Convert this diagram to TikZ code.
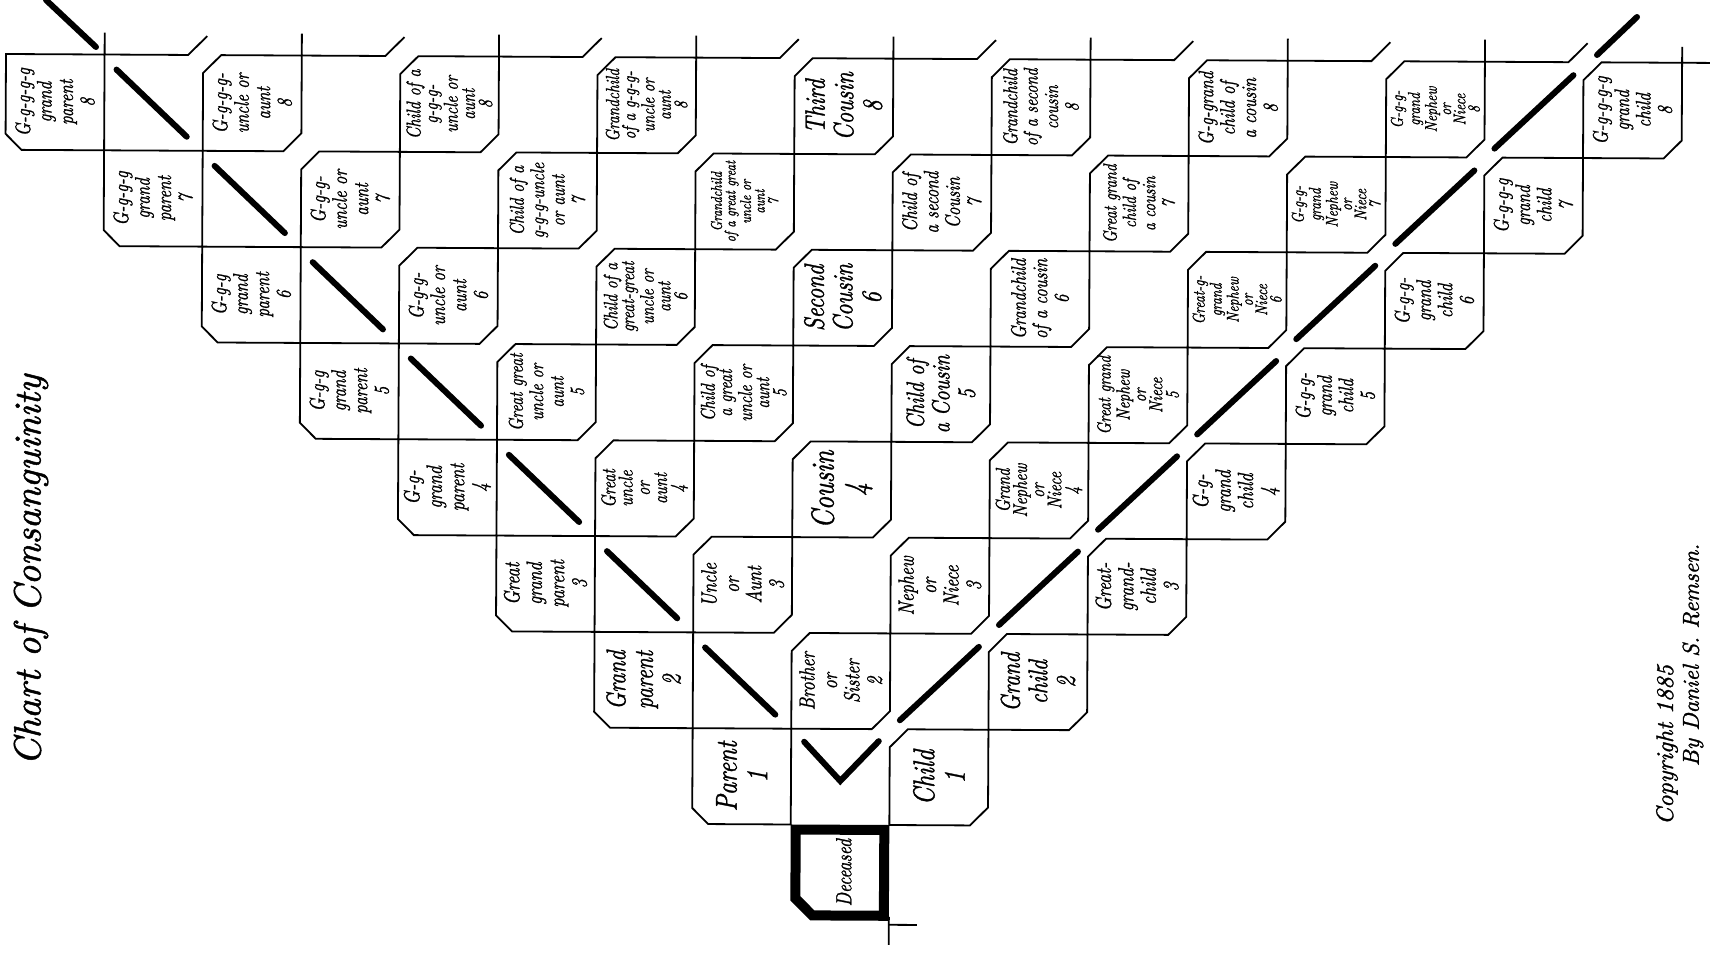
\documentclass[tikz,border=0pt]{standalone}
\usepackage{fontspec}
\newfontfamily\hand{lmroman10-italic.otf}[FakeBold=1.3]
\tikzset{
  edge/.style={line width=1.8pt, line join=miter},
  heavy/.style={line width=6pt, line cap=round},
  lbl/.style={inner sep=0pt, rotate=90, align=center, font=\hand\fontsize{10}{10.2}\selectfont},
}
\newcommand\setcell[2]{%
  \pgfmathsetmacro\xl{6+98.6*(#2)}%
  \pgfmathsetmacro\xr{6+98.6*((#2)+1)}%
  \pgfmathsetmacro\yt{54+95.8*(#1)}%
  \pgfmathsetmacro\yb{54+95.8*((#1)+1)}%
  \pgfmathsetmacro\xm{(\xl+\xr)/2}%
  \pgfmathsetmacro\ym{(\yt+\yb)/2}%
}
\newcommand\nbbox[5][10.2]{%
  \setcell{#2}{#3}%
  \pgfmathsetmacro\sc{#4/10}\pgfmathsetmacro\scx{#4/10*0.8}%
  \draw[edge] (\xl,\yt+18) -- (\xl+18,\yt) -- (\xr,\yt) -- (\xr,\yb-18) -- (\xr-18,\yb) -- (\xl,\yb) -- cycle;
  \node[lbl,font=\hand\fontsize{10}{#1}\selectfont,xscale=\scx,yscale=\sc] (b#2-#3) at (\xm,\ym) {#5};
}
\newcommand\gpbox[4]{%
  \setcell{#1}{#2}%
  \pgfmathsetmacro\sc{#3/10}\pgfmathsetmacro\scx{#3/10*0.8}%
  \draw[edge] (\xl,\yt) -- (\xr,\yt) -- (\xr,\yb) -- (\xl+16,\yb) -- (\xl,\yb-16) -- cycle;
  \node[lbl,xscale=\scx,yscale=\sc] (b#1-#2) at (\xm,\ym) {#4};
}
\begin{document}
\begin{tikzpicture}[x=1pt,y=-1pt]
\useasboundingbox[fill=white] (0,0) rectangle (1710,953);
\begin{scope}[shift={(6,54)}, rotate=-0.3, shift={(-6,-54)}]
% row 0 (8)
\gpbox{0}{0}{21}{G-g-g-g-g\\grand\\parent\\8}
\nbbox{0}{2}{21}{G-g-g-g-\\uncle or\\aunt\\8}
\nbbox[8.6]{0}{4}{20}{Child of a\\g-g-g-\\uncle or\\aunt\\8}
\nbbox[8.6]{0}{6}{19}{Grandchild\\of a g-g-g-\\uncle or\\aunt\\8}
\nbbox{0}{8}{28}{Third\\Cousin\\8}
\nbbox{0}{10}{20}{Grandchild\\of a second\\cousin\\8}
\nbbox{0}{12}{21}{G-g-grand\\child of\\a cousin\\8}
\nbbox[8.4]{0}{14}{17}{G-g-g-\\grand\\Nephew\\or\\Niece\\8}
\nbbox{0}{16}{21}{G-g-g-g-g\\grand\\child\\8}
% row 1 (7)
\gpbox{1}{1}{21}{G-g-g-g\\grand\\parent\\7}
\nbbox{1}{3}{21}{G-g-g-\\uncle or\\aunt\\7}
\nbbox{1}{5}{20}{Child of a\\g-g-g-uncle\\or aunt\\7}
\nbbox[8.8]{1}{7}{15.5}{Grandchild\\of a great great\\uncle or\\aunt\\7}
\nbbox{1}{9}{21}{Child of\\a second\\Cousin\\7}
\nbbox{1}{11}{19}{Great grand\\child of\\a cousin\\7}
\nbbox[8.4]{1}{13}{17}{G-g-g-\\grand\\Nephew\\or\\Niece\\7}
\nbbox{1}{15}{21}{G-g-g-g\\grand\\child\\7}
% row 2 (6)
\gpbox{2}{2}{21}{G-g-g\\grand\\parent\\6}
\nbbox{2}{4}{21}{G-g-g-\\uncle or\\aunt\\6}
\nbbox[8.6]{2}{6}{19.5}{Child of a\\great-great\\uncle or\\aunt\\6}
\nbbox{2}{8}{28}{Second\\Cousin\\6}
\nbbox{2}{10}{21}{Grandchild\\of a cousin\\6}
\nbbox[8.4]{2}{12}{17}{Great-g-\\grand\\Nephew\\or\\Niece\\6}
\nbbox{2}{14}{21}{G-g-g-\\grand\\child\\6}
% row 3 (5)
\gpbox{3}{3}{21}{G-g-g\\grand\\parent\\5}
\nbbox{3}{5}{20}{Great great\\uncle or\\aunt\\5}
\nbbox[8.6]{3}{7}{20}{Child of\\a great\\uncle or\\aunt\\5}
\nbbox{3}{9}{25}{Child of\\a Cousin\\5}
\nbbox[8.6]{3}{11}{19}{Great grand\\Nephew\\or\\Niece\\5}
\nbbox{3}{13}{21}{G-g-g-\\grand\\child\\5}
% row 4 (4)
\gpbox{4}{4}{22}{G-g-\\grand\\parent\\4}
\nbbox[8.6]{4}{6}{20}{Great\\uncle\\or\\aunt\\4}
\nbbox{4}{8}{32}{Cousin\\4}
\nbbox[8.6]{4}{10}{20}{Grand\\Nephew\\or\\Niece\\4}
\nbbox{4}{12}{22}{G-g-\\grand\\child\\4}
% row 5 (3)
\gpbox{5}{5}{22}{Great\\grand\\parent\\3}
\nbbox{5}{7}{22}{Uncle\\or\\Aunt\\3}
\nbbox{5}{9}{22}{Nephew\\or\\Niece\\3}
\nbbox{5}{11}{22}{Great-\\grand-\\child\\3}
% row 6 (2)
\gpbox{6}{6}{27}{Grand\\parent\\2}
\nbbox{6}{8}{22}{Brother\\or\\Sister\\2}
\nbbox{6}{10}{27}{Grand\\child\\2}
% row 7 (1)
\gpbox{7}{7}{30}{Parent\\1}
\nbbox{7}{9}{30}{Child\\1}
% heavy diagonals
\foreach \r in {0,...,6}{
  \setcell{\r}{\r+1}
  \draw[heavy] (\xl+12,\yt+15) -- (\xr-16,\yb-14);
  \setcell{\r}{15-\r}
  \draw[heavy] (\xl+10,\yb-9) -- (\xr-10,\yt+13);
}
% V below brother/sister
\setcell{7}{8}
\draw[heavy] (\xl+13,\yt+13) -- (\xm,\yt+52) -- (\xr-11,\yt+12);
% Deceased
\setcell{8}{8}
\draw[line width=10pt, line join=miter] (\xl+5,\yt+5) -- (\xr-5,\yt+5) -- (\xr-5,\yb-5) -- (\xl+22,\yb-5) -- (\xl+5,\yb-22) -- cycle;
\node[lbl,xscale=1.76,yscale=2.2] (dec) at (\xm+4,\ym) {Deceased};
\draw[edge] (\xr,\yb-4) -- (\xr,\yb+24);
\draw[edge] (\xr,\yb+4) -- (\xr+28,\yb+4);
% stubs above the top row
\foreach \c in {1,3,...,15}{
  \setcell{0}{\c}
  \draw[edge] (\xl,\yt-22) -- (\xl,\yt) -- (\xr-15,\yt) -- (\xr+4,\yt-19);
}
\setcell{0}{17}
\draw[edge] (\xl,\yt-16) -- (\xl,\yt) -- (\xl+60,\yt);
\end{scope}
% extra strokes beyond the top
\draw[heavy] (46,0) -- (96,47);
\draw[heavy] (1597,55) -- (1637,17);
% title and credit
\node[lbl,scale=3.8] (title) at (31,570) {Chart of Consanguinity};
\node[lbl,scale=2.4] (copy) at (1667,745) {Copyright 1885};
\node[lbl,scale=2.3] (auth) at (1693,655) {By Daniel S. Remsen.};
\end{tikzpicture}
\end{document}
